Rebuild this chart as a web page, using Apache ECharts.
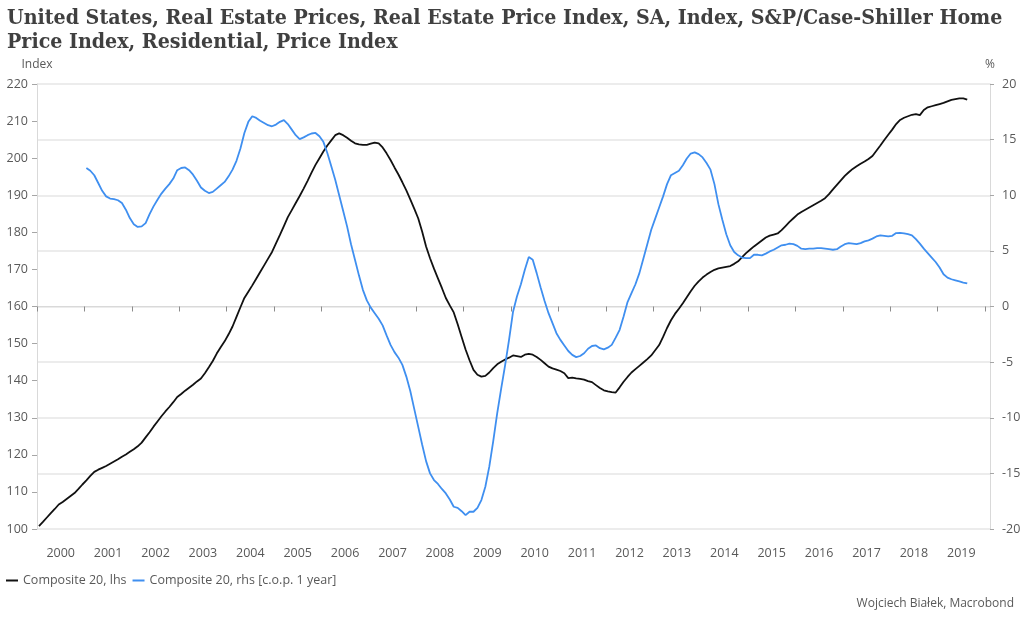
<!DOCTYPE html>
<html><head><meta charset="utf-8">
<script src="https://cdn.jsdelivr.net/npm/echarts@6/dist/echarts.min.js"></script>
<style>html,body{margin:0;padding:0;background:#fff}#c{width:1024px;height:621px}</style>
</head><body><div id="c"></div>
<script>
const titleText = 'United States, Real Estate Prices, Real Estate Price Index, SA, Index, S&P/Case-Shiller Home\nPrice Index, Residential, Price Index';
const sourceText = 'Wojciech Białek, Macrobond';
const seriesNames = ['Composite 20, lhs', 'Composite 20, rhs [c.o.p. 1 year]'];

// first month of each series [year, month]
const levelStart = [2000, 1];
const yoyStart = [2001, 1];

// Composite 20 index level (lhs), monthly
const composite20Level = [
  100.8, 101.9, 103.1, 104.3, 105.4, 106.6, 107.3, 108.1, 108.9, 109.7, 110.8, 112.0,
  113.1, 114.3, 115.4, 116.0, 116.5, 117.0, 117.6, 118.2, 118.8, 119.5, 120.1, 120.8,
  121.5, 122.3, 123.3, 124.7, 126.1, 127.6, 129.0, 130.4, 131.7, 132.9, 134.2, 135.6,
  136.4, 137.3, 138.1, 138.9, 139.8, 140.6, 142.0, 143.6, 145.3, 147.3, 149.0, 150.6,
  152.5, 154.6, 157.2, 159.8, 162.3, 164.0, 165.7, 167.5, 169.3, 171.1, 172.9, 174.7,
  177.0, 179.3, 181.7, 184.1, 186.0, 187.9, 189.8, 191.8, 193.9, 196.1, 198.2, 200.0,
  201.8, 203.4, 204.8, 206.2, 206.7, 206.2, 205.5, 204.7, 204.0, 203.7, 203.6, 203.6,
  203.9, 204.2, 204.0, 202.9, 201.3, 199.5, 197.5, 195.6, 193.5, 191.3, 188.9, 186.4,
  183.8, 180.2, 176.2, 173.0, 170.2, 167.6, 165.0, 162.3, 160.3, 158.4, 155.2, 151.8,
  148.4, 145.5, 142.9, 141.6, 141.1, 141.3, 142.2, 143.4, 144.4, 145.1, 145.7, 146.2,
  146.8, 146.6, 146.4, 147.0, 147.2, 147.0, 146.4, 145.6, 144.7, 143.8, 143.3, 143.0,
  142.6, 142.0, 140.7, 140.8, 140.6, 140.5, 140.3, 139.9, 139.6, 138.8, 138.0, 137.4,
  137.1, 136.9, 136.8, 138.2, 139.7, 141.0, 142.2, 143.1, 144.0, 144.9, 145.8, 146.8,
  148.2, 149.6, 151.8, 154.2, 156.3, 158.0, 159.4, 160.9, 162.5, 164.1, 165.6, 166.8,
  167.8, 168.6, 169.3, 169.9, 170.3, 170.5, 170.7, 170.9, 171.5, 172.2, 173.3, 174.4,
  175.3, 176.2, 177.0, 177.8, 178.6, 179.1, 179.4, 179.7, 180.6, 181.7, 182.8, 183.8,
  184.8, 185.5, 186.1, 186.7, 187.3, 187.9, 188.5, 189.2, 190.3, 191.6, 192.8, 194.0,
  195.2, 196.2, 197.1, 197.8, 198.5, 199.1, 199.8, 200.6, 202.0, 203.4, 204.9, 206.3,
  207.7, 209.2, 210.3, 210.9, 211.3, 211.7, 211.9, 211.6, 213.0, 213.7, 214.0, 214.3,
  214.6, 214.9, 215.3, 215.7, 215.9, 216.1, 216.1, 215.8
];

// Composite 20, change over previous year in % (rhs), monthly
const composite20Yoy = [
  12.45, 12.2, 11.8, 11.1, 10.4, 9.9, 9.7, 9.65, 9.55, 9.3, 8.7, 7.95,
  7.4, 7.15, 7.2, 7.5, 8.3, 9.0, 9.6, 10.15, 10.6, 11.0, 11.5, 12.25,
  12.45, 12.5, 12.25, 11.85, 11.3, 10.7, 10.4, 10.2, 10.3, 10.6, 10.9, 11.2,
  11.7, 12.3, 13.1, 14.2, 15.6, 16.6, 17.1, 16.95, 16.7, 16.5, 16.3, 16.2,
  16.35, 16.6, 16.75, 16.4, 15.9, 15.4, 15.05, 15.2, 15.4, 15.55, 15.6, 15.3,
  14.8, 13.8, 12.6, 11.4, 10.0, 8.6, 7.2, 5.6, 4.2, 2.8, 1.5, 0.55,
  -0.1, -0.6, -1.1, -1.7, -2.6, -3.45, -4.1, -4.6, -5.25, -6.3, -7.6, -9.2,
  -10.8, -12.4, -13.9, -15.0, -15.6, -15.95, -16.4, -16.8, -17.35, -18.0, -18.1, -18.4,
  -18.75, -18.45, -18.45, -18.1, -17.4, -16.2, -14.4, -12.1, -9.6, -7.4, -5.3, -3.0,
  -0.5, 0.9, 2.0, 3.3, 4.45, 4.2, 3.0, 1.7, 0.5, -0.6, -1.5, -2.4,
  -3.0, -3.5, -4.0, -4.35, -4.55, -4.45, -4.2, -3.8, -3.55, -3.5, -3.75, -3.85,
  -3.7, -3.45, -2.8, -2.1, -0.9, 0.4, 1.2, 2.0, 3.0, 4.3, 5.6, 6.9,
  7.9, 8.9, 9.9, 11.0, 11.8, 12.0, 12.2, 12.7, 13.3, 13.75, 13.85, 13.7,
  13.4, 12.9, 12.3, 11.0, 9.2, 7.8, 6.5, 5.5, 4.9, 4.6, 4.4, 4.35,
  4.35, 4.65, 4.65, 4.6, 4.75, 4.95, 5.1, 5.3, 5.5, 5.55, 5.65, 5.6,
  5.45, 5.2, 5.15, 5.2, 5.2, 5.25, 5.25, 5.2, 5.15, 5.1, 5.15, 5.4,
  5.6, 5.7, 5.65, 5.6, 5.7, 5.85, 5.95, 6.1, 6.3, 6.4, 6.35, 6.3,
  6.35, 6.6, 6.62, 6.58, 6.5, 6.4, 6.05, 5.65, 5.2, 4.8, 4.4, 4.0,
  3.5, 2.9, 2.6, 2.45, 2.35, 2.25, 2.15, 2.07
];

const yearTicks = [2000,2001,2002,2003,2004,2005,2006,2007,2008,2009,2010,2011,2012,2013,2014,2015,2016,2017,2018,2019,2020];
const yearLabels = [2000,2001,2002,2003,2004,2005,2006,2007,2008,2009,2010,2011,2012,2013,2014,2015,2016,2017,2018,2019];

// x = decimal year at mid-month
function toSeries(start, values) {
  return values.map(function (v, i) {
    const k = start[1] - 1 + i;
    return [start[0] + (k + 0.5) / 12, v];
  });
}

const labelColor = '#595959';
const sans = '"Open Sans", "Noto Sans", sans-serif';
const blue = '#3f8ff0';

const chart = echarts.init(document.getElementById('c'), null, {renderer: 'canvas'});
chart.setOption({
  animation: false,
  backgroundColor: '#ffffff',
  title: {
    text: titleText,
    left: 7, top: 7, padding: 0,
    textStyle: {fontFamily: '"DejaVu Serif Condensed", "Liberation Serif", serif', fontWeight: 'bold', fontSize: 21.2, lineHeight: 23.5, color: '#404040'}
  },
  grid: {left: 37, right: 34, top: 84, bottom: 92, containLabel: false},
  legend: {
    left: 6, top: 574, padding: 0,
    itemWidth: 12, itemHeight: 2, itemGap: 6, icon: 'rect',
    textStyle: {color: labelColor, fontFamily: sans, fontSize: 12.5},
    data: seriesNames
  },
  xAxis: {
    type: 'value',
    min: 2000, max: 2020.105,
    offset: 8,
    axisLine: {show: true, lineStyle: {color: '#d9d9d9', width: 1}},
    axisTick: {show: true, length: 5, customValues: yearTicks, lineStyle: {color: '#8c8c8c'}},
    axisLabel: {
      customValues: yearLabels.map(function (y) { return y + 0.5; }),
      formatter: function (v) { return String(Math.floor(v)); },
      color: labelColor, fontFamily: sans, fontSize: 12.5, margin: 10
    },
    splitLine: {show: false}
  },
  yAxis: [
    {
      type: 'value', position: 'left', min: 100, max: 220, interval: 10,
      name: 'Index', nameLocation: 'end', nameGap: 13,
      nameTextStyle: {color: labelColor, fontFamily: sans, fontSize: 12},
      axisLine: {show: true, lineStyle: {color: '#d9d9d9'}},
      axisTick: {show: true, length: 5, lineStyle: {color: '#a6a6a6'}},
      axisLabel: {color: labelColor, fontFamily: sans, fontSize: 12.5, margin: 9},
      splitLine: {show: false}
    },
    {
      type: 'value', position: 'right', min: -20, max: 20, interval: 5,
      name: '%', nameLocation: 'end', nameGap: 13,
      nameTextStyle: {color: labelColor, fontFamily: sans, fontSize: 12},
      axisLine: {show: true, lineStyle: {color: '#d9d9d9'}},
      axisTick: {show: true, length: 4, lineStyle: {color: '#a6a6a6'}},
      axisLabel: {color: labelColor, fontFamily: sans, fontSize: 12.5, margin: 12},
      splitLine: {show: true, lineStyle: {color: '#e6e6e6', width: 1.5}}
    }
  ],
  series: [
    {
      name: seriesNames[0], type: 'line', yAxisIndex: 0, showSymbol: false,
      data: toSeries(levelStart, composite20Level),
      lineStyle: {color: '#111111', width: 1.8}, itemStyle: {color: '#111111'}
    },
    {
      name: seriesNames[1], type: 'line', yAxisIndex: 1, showSymbol: false,
      data: toSeries(yoyStart, composite20Yoy),
      lineStyle: {color: blue, width: 1.8}, itemStyle: {color: blue}
    }
  ],
  graphic: [{
    type: 'text', right: 10, top: 598,
    style: {text: sourceText, fill: labelColor, font: '12px ' + sans}
  }]
});
</script>
</body></html>
